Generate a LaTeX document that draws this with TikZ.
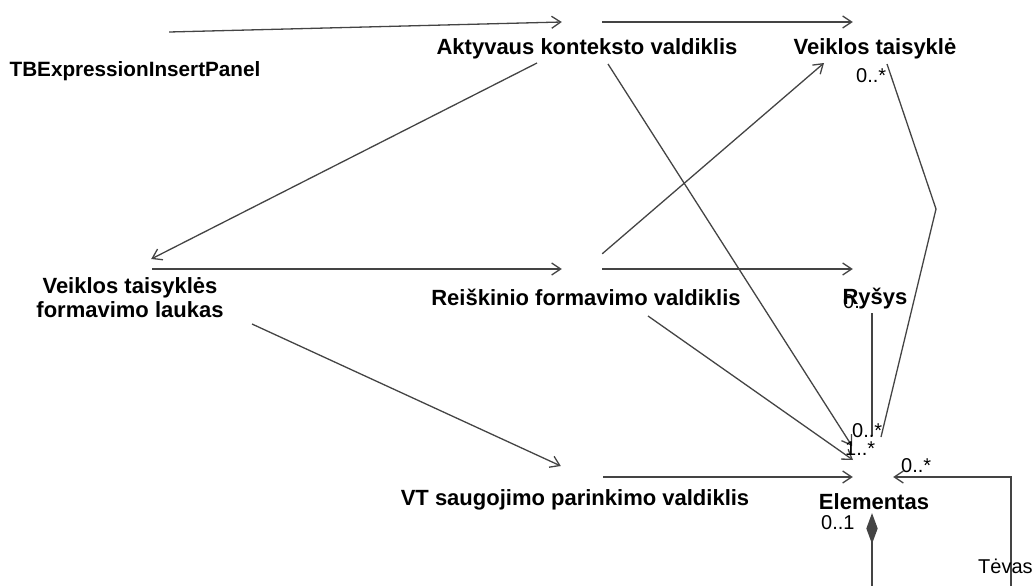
\documentclass[tikz,border=0pt]{standalone}
\usepackage{fontspec}
\setmainfont{Liberation Sans}
\usetikzlibrary{arrows.meta,calc}
\definecolor{linegray}{HTML}{444444}
\tikzset{
  icon/.style={minimum width=40pt, minimum height=30pt, inner sep=0pt, draw=none},
  cname/.style={anchor=base, inner sep=0pt, font=\fontsize{22}{24}\selectfont\bfseries, align=center},
  mult/.style={anchor=base west, inner sep=0pt, font=\fontsize{20}{22}\selectfont},
  assoc/.style={draw=linegray, line width=1.3pt},
  nav/.style={assoc, -{Straight Barb[length=9pt,width=12pt,line width=1.3pt]}},
}
\begin{document}
\begin{tikzpicture}[x=1pt, y=-1pt]
\useasboundingbox (0,0) rectangle (1035,586);

% class icons (anchors for the connectors)
\node[icon] (tb)   at (149,32)  {};
\node[icon] (akt)  at (582,22)  {};
\node[icon] (vt)   at (873,22)  {};
\node[icon] (vtfl) at (132,269) {};
\node[icon] (ref)  at (582,269) {};
\node[icon] (rys)  at (873,269) {};
\node[icon] (vts)  at (583,477) {};
\node[icon] (el)   at (873,477) {};

% class names
\node[cname, font=\fontsize{20.7}{24}\selectfont\bfseries] (tb-l) at (135,77) {TBExpressionInsertPanel};
\node[cname] (akt-l)  at (587,55)  {Aktyvaus konteksto valdiklis};
\node[cname] (vt-l)   at (875,55)  {Veiklos taisyklė};
\node[cname] (vtfl-l) at (130,317) {Veiklos taisyklės\\formavimo laukas};
\node[cname] (ref-l)  at (586,305) {Reiškinio formavimo valdiklis};
\node[mult]  (m-rys)  at (843,308) {0..};
\node[cname] (rys-l)  at (875,304) {Ryšys};
\node[cname] (vts-l)  at (575,505) {VT saugojimo parinkimo valdiklis};
\node[cname] (el-l)   at (874,509) {Elementas};

% navigable associations
\draw[nav] (tb.east) -- (akt.west);
\draw[nav] (akt.east) -- (vt.west);
\draw[nav] ($(akt)+(-45,41)$) -- ($(vtfl.east)+(-1,-10)$);
\draw[nav] ($(akt)+(26,42)$) -- ($(el)+(-21,-31)$);
\draw[nav] (vtfl.east) -- (ref.west);
\draw[nav] ($(vtfl)+(120,55)$) -- ($(vts.west)+(-2,-11)$);
\draw[nav] (ref.north east) -- ($(vt)+(-49,41)$);
\draw[nav] (ref.east) -- (rys.west);
\draw[nav] ($(ref)+(66,47)$) -- ($(el)+(-20,-17)$);
\draw[nav] (vts.east) -- (el.west);

% plain associations
\draw[assoc] ($(rys)+(-1,44)$) -- ($(el)+(-1,-41)$);
\draw[assoc] ($(vt)+(14,42)$) -- ($(vt)+(63,187)$) -- ($(el)+(8,-40)$);

% parent reference
\coordinate (loop-b) at (1011,586);
\draw[nav] (loop-b) -- (loop-b |- el.east) -- (el.east);

% composition
\coordinate (dia-b) at (872,586);
\draw[assoc, fill=linegray] (872,515) -- (877,528.5) -- (872,542) -- (867,528.5) -- cycle;
\draw[assoc] (872,542) -- (dia-b);

% multiplicities and role
\node[mult] (m-vt)   at (856,82)  {0..*};
\node[mult] (m-el1)  at (852,437) {0..*};
\node[mult] (m-el2)  at (845,455) {1..*};
\node[mult] (m-el3)  at (901,472) {0..*};
\node[mult] (m-el4)  at (821,529) {0..1};
\node[mult] (role)   at (978,573) {Tėvas};
\end{tikzpicture}
\end{document}
